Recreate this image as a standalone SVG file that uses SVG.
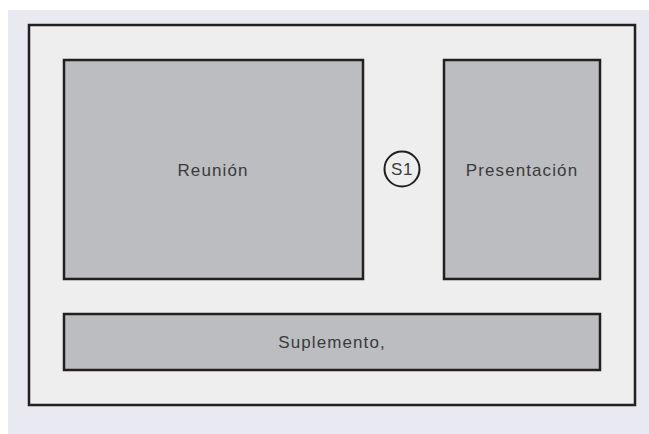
<svg xmlns="http://www.w3.org/2000/svg" width="649" height="434" viewBox="0 0 649 434">
<style>
.box{fill:#bcbdc1;stroke:#231f20;stroke-width:2.5}
.lbl{font-family:"Liberation Sans",Arial,sans-serif;font-size:17px;letter-spacing:1.1px;fill:#3a3a3c;text-anchor:middle}
</style>
<rect x="0" y="0" width="649" height="434" fill="#ffffff"/>
<rect x="8" y="10" width="641" height="424" fill="#e9e9f2"/>
<g id="frame"><rect x="29" y="25" width="606" height="380" fill="#eeeeee" stroke="#231f20" stroke-width="2.5"/></g>
<g id="reunion"><rect class="box" x="64" y="60" width="299" height="219"/><text class="lbl" x="213" y="176">Reunión</text></g>
<g id="presentacion"><rect class="box" x="444" y="60" width="156" height="219"/><text class="lbl" x="522" y="176">Presentación</text></g>
<g id="s1"><circle cx="402" cy="169" r="17.5" fill="none" stroke="#231f20" stroke-width="2"/><text class="lbl" x="402" y="175" style="letter-spacing:0.5px">S1</text></g>
<g id="suplemento"><rect class="box" x="64" y="314" width="536" height="56"/><text class="lbl" x="332" y="348">Suplemento,</text></g>
<g id="connectors"></g>
</svg>
